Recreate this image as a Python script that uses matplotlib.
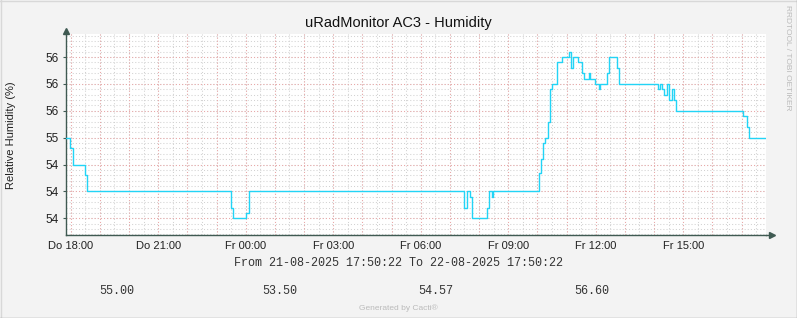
import numpy as np
import matplotlib
matplotlib.use("Agg")
import matplotlib.pyplot as plt
from matplotlib.lines import Line2D

# hours since 21-08-2025 17:50:22 where the humidity changes, and the new value
hours = [0.00, 0.15, 0.23, 0.66, 0.73, 5.66, 5.74, 6.16, 6.27,
         13.65, 13.74, 13.85, 13.91, 14.42, 14.50, 14.59, 14.65,
         16.23, 16.27, 16.34, 16.41, 16.53, 16.59, 16.65, 16.82, 17.01,
         17.23, 17.31, 17.38, 17.56, 17.69, 17.77, 17.92, 17.96, 18.15,
         18.26, 18.31, 18.56, 18.63, 18.88, 18.96, 20.31, 20.36, 20.42,
         20.50, 20.59, 20.67, 20.77, 20.85, 20.91, 23.20, 23.36, 23.43, 24.00]
humidity = [55.0, 54.8, 54.5, 54.3, 54.0, 53.7, 53.5, 53.6, 54.0,
            53.7, 54.0, 53.9, 53.5, 53.7, 54.0, 53.9, 54.0,
            54.35, 54.6, 54.9, 55.0, 55.3, 55.9, 56.0, 56.4, 56.5,
            56.6, 56.3, 56.5, 56.4, 56.2, 56.1, 56.2, 56.1, 56.0,
            55.9, 56.0, 56.2, 56.5, 56.3, 56.0, 55.9, 56.0, 55.9,
            55.8, 56.0, 55.7, 55.9, 55.7, 55.5, 55.4, 55.2, 55.0, 55.0]

xtick_hours = [0.1606 + 3 * k for k in range(8)]
xtick_labels = ["Do 18:00", "Do 21:00", "Fr 00:00", "Fr 03:00",
                "Fr 06:00", "Fr 09:00", "Fr 12:00", "Fr 15:00"]
ytick_values = [53.5, 54.0, 54.5, 55.0, 55.5, 56.0, 56.5]
ytick_labels = ["54", "54", "54", "55", "56", "56", "56"]
legend_values = ["55.00", "53.50", "54.57", "56.60"]

W, H = 797, 318
bg = "#F3F3F3"
axcol = "#3F5A52"

fig = plt.figure(figsize=(W / 100, H / 100), dpi=100, facecolor=bg)
ax = fig.add_axes([66 / W, 83 / H, 700 / W, 201 / H])
ax.set_facecolor("white")
ax.set_xlim(0, 24)
ax.set_ylim(53.19, 56.93)

# grid: minor grey, major red (dotted)
dots = (0, (1, 2))
for m in np.arange(0.1606 - 0.5, 24, 0.5):
    if m > 0:
        ax.axvline(m, color="#D2D2D2", lw=0.75, ls=dots, zorder=1)
for m in np.arange(0.1606, 24, 1.0):
    ax.axvline(m, color="#EAA8A8", lw=0.75, ls=dots, zorder=1.5)
for v in np.arange(53.2, 56.95, 0.1):
    ax.axhline(v, color="#D2D2D2", lw=0.75, ls=dots, zorder=1)
for v in ytick_values:
    ax.axhline(v, color="#EAA8A8", lw=0.75, ls=dots, zorder=1.5)

ax.plot(hours, humidity, drawstyle="steps-post", color="#22D4F6", lw=1.0, zorder=3)

ax.set_xticks(xtick_hours)
ax.set_xticklabels(xtick_labels, fontsize=8, family="Liberation Sans")
ax.set_yticks(ytick_values)
ax.set_yticklabels(ytick_labels, fontsize=8.5, family="Liberation Sans")
ax.tick_params(axis="x", length=0, pad=4, colors="#222222")
ax.tick_params(axis="y", length=2, width=0.8, color=axcol, pad=3, labelcolor="#222222")

for s in ["top", "right"]:
    ax.spines[s].set_visible(False)
for s in ["left", "bottom"]:
    ax.spines[s].set_color(axcol)
    ax.spines[s].set_linewidth(1.0)

# axis arrows
ax.plot([0], [1.015], marker="^", ms=5, color=axcol, transform=ax.transAxes, clip_on=False)
ax.plot([0, 0], [1.0, 1.02], color=axcol, lw=1.0, transform=ax.transAxes, clip_on=False)
ax.plot([1.0, 1.008], [0, 0], color=axcol, lw=1.0, transform=ax.transAxes, clip_on=False)
ax.plot([1.009], [0], marker=">", ms=5, color=axcol, transform=ax.transAxes, clip_on=False)

fig.text(11 / W, 1 - 135 / H, "Relative Humidity (%)", ha="center", va="center",
         rotation=90, fontsize=8, family="Liberation Sans", color="#222222")
fig.text(398 / W, 1 - 23 / H, "uRadMonitor AC3 - Humidity", ha="center", va="center",
         fontsize=10.5, family="Liberation Sans", color="#111111")
fig.text(788 / W, 1 - 58 / H, "RRDTOOL / TOBI OETIKER", ha="center", va="center",
         rotation=270, fontsize=6, family="Liberation Sans", color="#BBBBBB")
fig.text(398 / W, 1 - 263 / H, "From 21-08-2025 17:50:22 To 22-08-2025 17:50:22",
         ha="center", va="center", fontsize=8.5, family="Liberation Mono", color="#333333")
for xp, txt in zip([117, 280, 436, 592], legend_values):
    fig.text(xp / W, 1 - 291 / H, txt, ha="center", va="center",
             fontsize=8.5, family="Liberation Mono", color="#333333")
fig.text(398 / W, 1 - 308 / H, "Generated by Cacti\u00ae", ha="center", va="center",
         fontsize=6, family="Liberation Sans", color="#BBBBBB")

# frame around the canvas
fig.add_artist(Line2D([0.5 / W, 0.5 / W], [0, 1], color="#D8D8D8", lw=1, transform=fig.transFigure))
fig.add_artist(Line2D([0, 1], [1 - 0.5 / H, 1 - 0.5 / H], color="#D8D8D8", lw=1, transform=fig.transFigure))
fig.add_artist(Line2D([1 - 0.5 / W, 1 - 0.5 / W], [0, 1], color="#A0A0A0", lw=1, transform=fig.transFigure))
fig.add_artist(Line2D([0, 1], [0.5 / H, 0.5 / H], color="#A0A0A0", lw=1, transform=fig.transFigure))

fig.savefig("out.png", dpi=100, facecolor=bg)
